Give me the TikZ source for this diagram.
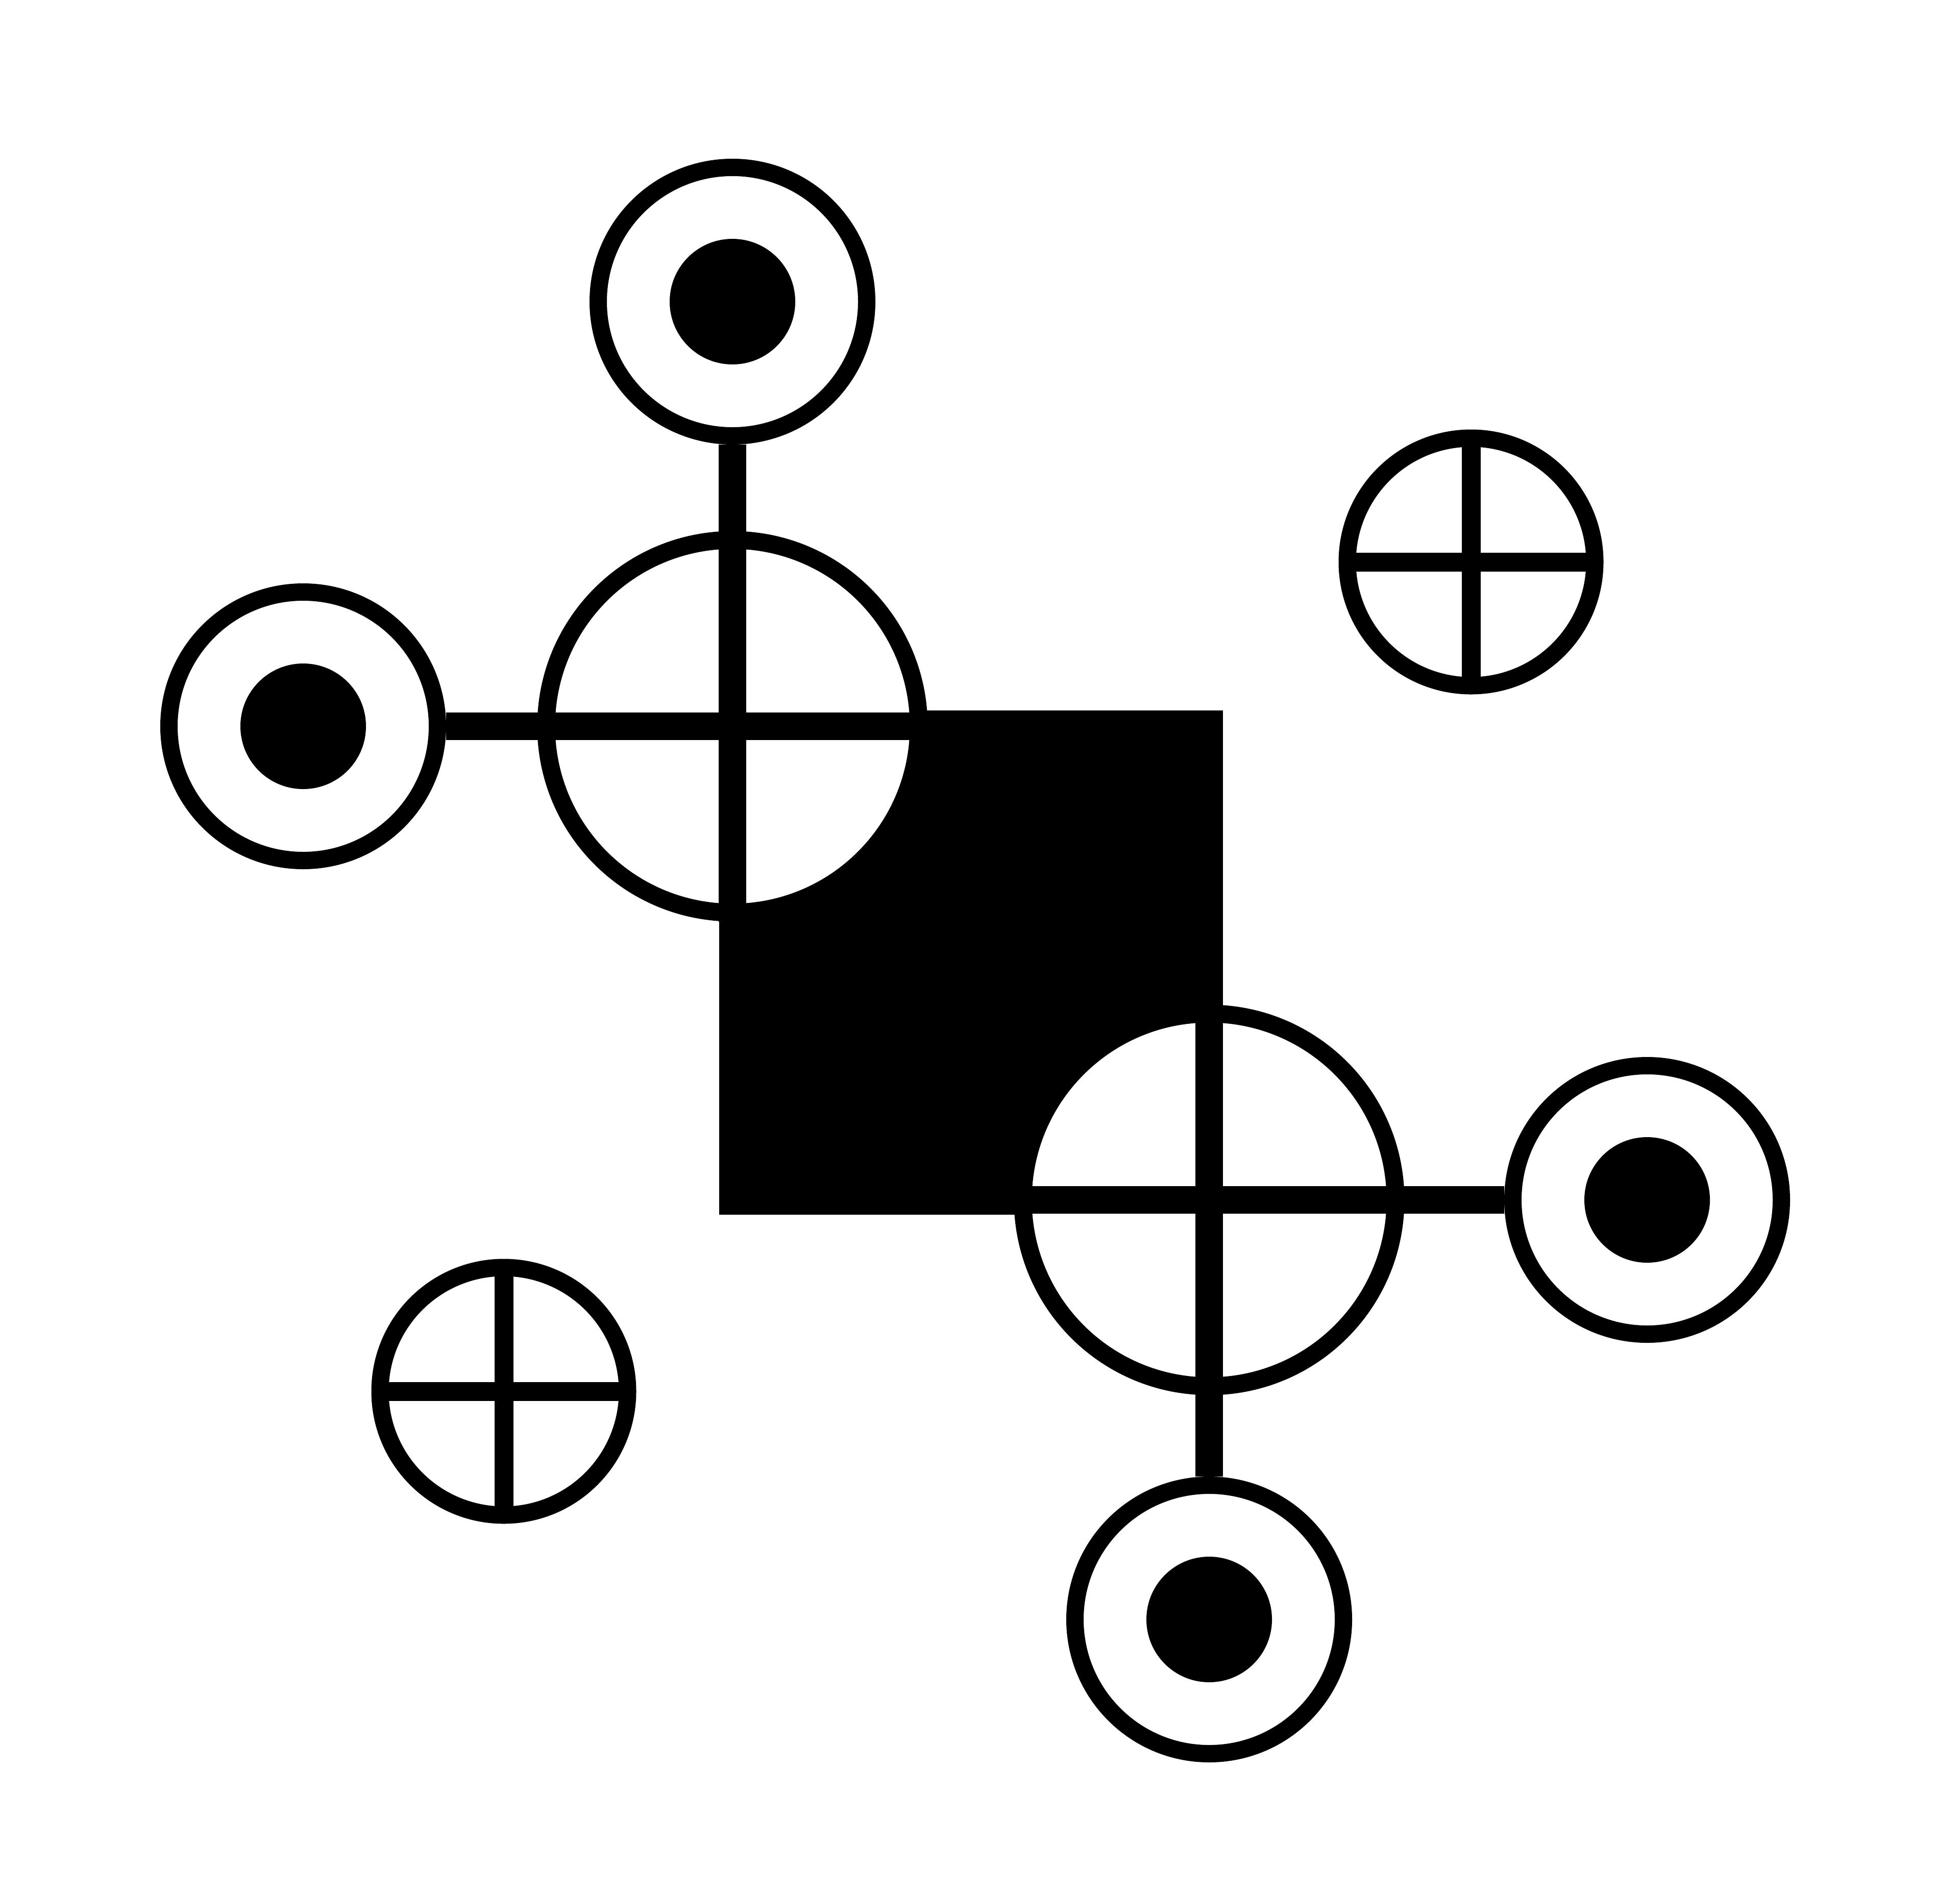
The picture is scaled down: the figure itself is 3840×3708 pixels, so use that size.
\documentclass[tikz,border=0pt]{standalone}
\begin{document}
\begin{tikzpicture}[x=1pt,y=-1pt,
  ring/.style={circle,draw=black,fill=white,line width=34pt,inner sep=0pt,minimum size=526pt},
  bigring/.style={circle,draw=black,fill=white,line width=35pt,inner sep=0pt,minimum size=730pt},
  smallring/.style={circle,draw=black,fill=white,line width=34pt,inner sep=0pt,outer sep=0pt,minimum size=485pt},
  dot/.style={circle,fill=black,inner sep=0pt,minimum size=246pt},
  bar/.style={line width=54pt},
  crossbar/.style={line width=37pt},
  block/.style={rectangle,fill=black,inner sep=0pt,minimum width=987pt,minimum height=988pt}]
\useasboundingbox (0,0) rectangle (3840,3708);
% central black square
\node[block] (sq) at (1902.5,1886) {};
% rings
\node[bigring] (c1) at (1435,1423) {};
\node[bigring] (c2) at (2369,2351) {};
\node[ring] (top) at (1435,591) {};
\node[ring] (left) at (594,1423) {};
\node[ring] (right) at (3227,2351) {};
\node[ring] (bottom) at (2369,3173) {};
\node[smallring] (tr) at (2882,1101) {};
\node[smallring] (bl) at (987,2726) {};
% dots
\node[dot] (topd) at (top) {};
\node[dot] (leftd) at (left) {};
\node[dot] (rightd) at (right) {};
\node[dot] (bottomd) at (bottom) {};
% bars
\draw[bar] (top.south) -- (c1.south);
\draw[bar] (left.east) -- (c1.east);
\draw[bar] (c2.north) -- (bottom.north);
\draw[bar] (c2.west) -- (right.west);
% crosses in small rings
\draw[crossbar] (tr.north) -- (tr.south);
\draw[crossbar] (tr.west) -- (tr.east);
\draw[crossbar] (bl.north) -- (bl.south);
\draw[crossbar] (bl.west) -- (bl.east);
\end{tikzpicture}
\end{document}
